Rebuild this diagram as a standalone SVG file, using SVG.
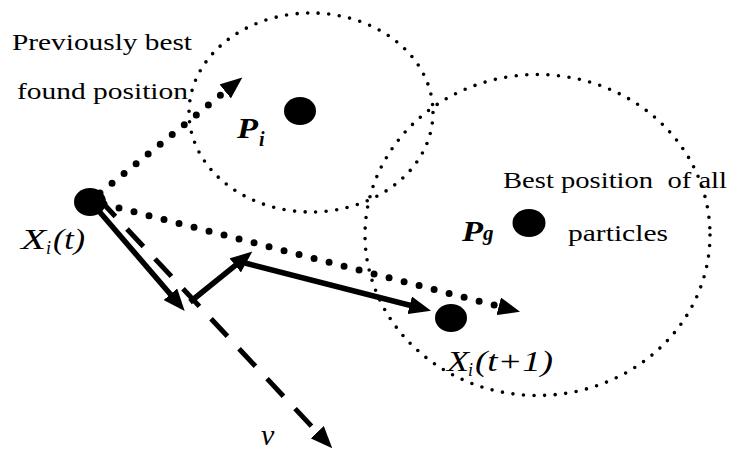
<svg xmlns="http://www.w3.org/2000/svg" width="736" height="452" viewBox="0 0 736 452">
<defs>
<marker id="head" markerUnits="userSpaceOnUse" viewBox="0 0 22 18" markerWidth="22" markerHeight="18" refX="1" refY="9" orient="auto">
<path d="M0,0 L22,9 L0,18 z" fill="#000"/>
</marker>
</defs>
<style>
.region{fill:none;stroke:#000;stroke-width:3.6;stroke-linecap:round;stroke-dasharray:0 10.6}
.solid{fill:none;stroke:#000;stroke-width:5.5;marker-end:url(#head)}
.dotted{fill:none;stroke:#000;stroke-width:7;stroke-linecap:round;stroke-dasharray:0 15.5;marker-end:url(#head)}
.dashed{fill:none;stroke:#000;stroke-width:5;stroke-dasharray:24 17;marker-end:url(#head)}
.dot{fill:#000}
text{font-family:"Liberation Serif","Times New Roman","DejaVu Serif",serif;fill:#000}
.it{font-style:italic}
.bi{font-style:italic;font-weight:bold}
</style>
<rect width="736" height="452" fill="#fff"/>
<g id="regions">
<ellipse class="region" cx="311" cy="112.5" rx="122" ry="99.5"/>
<ellipse class="region" cx="537.5" cy="235" rx="172.5" ry="160.5"/>
</g>
<g id="connectors">
<path class="dotted" d="M100,193 L226,90.8"/>
<path class="dotted" d="M104,204 L499.7,306.5"/>
<path class="dashed" d="M99,199 L317.9,433"/>
<path class="solid" d="M98,210 L171,295"/>
<path class="solid" d="M190,302 L236,264.8"/>
<path class="solid" d="M245,263 L410.7,305.5"/>
</g>
<g id="label-prev">
<text x="12" y="50" font-size="24" textLength="180" lengthAdjust="spacingAndGlyphs">Previously best</text>
<text x="17" y="99" font-size="24" textLength="171" lengthAdjust="spacingAndGlyphs">found position</text>
</g>
<g id="node-pi">
<ellipse class="dot" cx="300" cy="111" rx="16" ry="14"/>
<text class="bi" x="237" y="138" font-size="29" textLength="21" lengthAdjust="spacingAndGlyphs">P</text>
<text class="bi" x="259" y="146" font-size="20">i</text>
</g>
<g id="node-pg">
<ellipse class="dot" cx="529" cy="223" rx="16.5" ry="14"/>
<text class="bi" x="462" y="241" font-size="29" textLength="21" lengthAdjust="spacingAndGlyphs">P</text>
<text class="bi" x="483" y="240" font-size="21">g</text>
<text x="503" y="188" font-size="23" textLength="224" lengthAdjust="spacingAndGlyphs" xml:space="preserve">Best position  of all</text>
<text x="568" y="241" font-size="23" textLength="100" lengthAdjust="spacingAndGlyphs">particles</text>
</g>
<g id="node-xt">
<ellipse class="dot" cx="90" cy="202" rx="16" ry="14"/>
<text class="it" x="21" y="249" font-size="30" textLength="25" lengthAdjust="spacingAndGlyphs">X</text>
<text class="it" x="46" y="254" font-size="18">i</text>
<text class="it" x="53" y="249" font-size="30" textLength="32" lengthAdjust="spacingAndGlyphs">(t)</text>
</g>
<g id="node-xt1">
<ellipse class="dot" cx="451" cy="318" rx="16" ry="14"/>
<text class="it" x="447" y="371" font-size="30" textLength="22" lengthAdjust="spacingAndGlyphs">X</text>
<text class="it" x="468" y="376" font-size="18">i</text>
<text class="it" x="475" y="371" font-size="30" textLength="78" lengthAdjust="spacingAndGlyphs">(t+1)</text>
</g>
<g id="label-v">
<text class="it" x="261" y="445" font-size="30">v</text>
</g>
</svg>
